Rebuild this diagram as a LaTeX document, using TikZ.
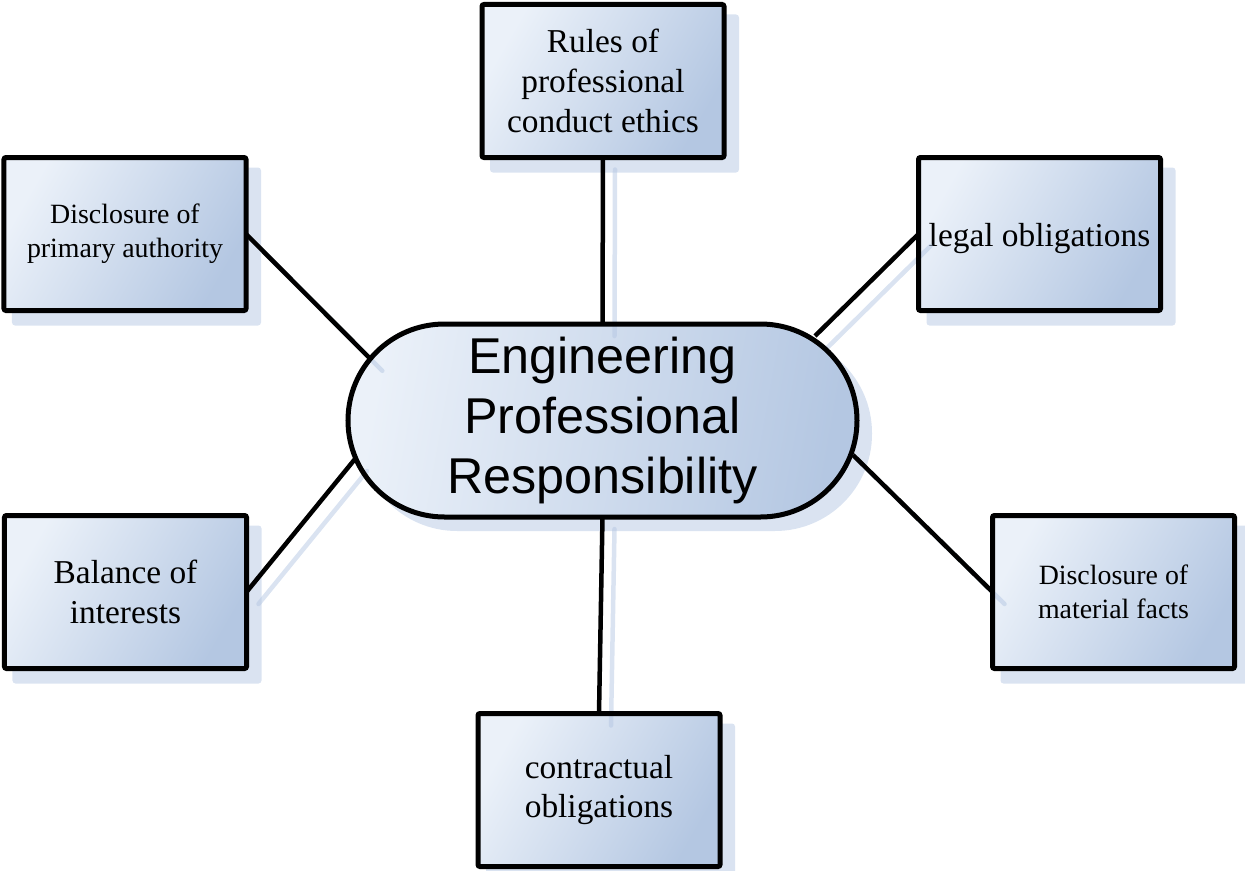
\documentclass[tikz,border=0pt]{standalone}
\usepackage{fontspec}
\setmainfont{Liberation Serif}
\newfontfamily\hubfont{Liberation Sans}
\usetikzlibrary{calc}
\definecolor{fillA}{RGB}{235,241,249}
\definecolor{fillB}{RGB}{180,199,226}
\definecolor{shadowc}{RGB}{218,227,241}
\definecolor{lineshc}{RGB}{181,199,227}
\pgfdeclarelayer{bg}
\pgfsetlayers{bg,main}
\tikzset{
  box/.style={rectangle, rounded corners=2bp, minimum width=242bp, minimum height=153bp,
    inner sep=0pt, outer sep=0pt, left color=fillA, right color=fillB, shading angle=60,
    align=center, font=\fontsize{33.5}{40}\selectfont},
  smallbox/.style={box, font=\fontsize{28}{34}\selectfont},
  hub/.style={rectangle, rounded corners=96.5bp, minimum width=509bp, minimum height=193bp,
    inner sep=0pt, outer sep=0pt, left color=fillA, right color=fillB, shading angle=80,
    align=center, font=\hubfont\fontsize{50.5}{60}\selectfont},
  border/.style={draw=black, line width=5bp},
  link/.style={draw=black, line width=4.5bp},
  linkshadow/.style={draw=lineshc, opacity=0.5, line width=4.5bp, line cap=round},
  boxshadow/.style={fill=shadowc, rounded corners=3bp},
}
\begin{document}
\begin{tikzpicture}[x=1bp,y=-1bp]
\useasboundingbox (0,0) rectangle (1245,871);
% nodes (fill only, borders drawn later)
\node[hub] (C) at (602.5,420.5) {Engineering\\Professional\\Responsibility};
\node[box] (T) at (603,81) {Rules of\\professional\\conduct ethics};
\node[smallbox] (TL) at (125,234) {Disclosure of\\primary authority};
\node[box, text height=32bp, text depth=8bp] (TR) at (1039.5,234) {legal obligations};
\node[box] (BL) at (125.5,592) {Balance of\\interests};
\node[smallbox] (BR) at (1113.5,592) {Disclosure of\\material facts};
\node[box] (B) at (599,790) {contractual\\obligations};
% connection points on the hub border
\coordinate (pTL) at ($(C.center)+(-232.2,-61.7)$);
\coordinate (pBL) at ($(C.center)+(-247.5,38.5)$);
\coordinate (pTR) at ($(C.center)+(212.5,-84.5)$);
\coordinate (pBR) at ($(C.center)+(250.5,34.5)$);
% drop shadows
\begin{pgfonlayer}{bg}
\foreach \n in {T,TL,TR,BL,BR,B}
  \path[boxshadow] ($(\n.north west)+(8,10)$) rectangle ($(\n.south east)+(15,15)$);
\path[boxshadow, rounded corners=97bp] ($(C.north west)+(12,12)$) rectangle ($(C.south east)+(15,14)$);
\end{pgfonlayer}
% connector shadows
\foreach \a/\b in {T.south/C.north, TL.east/pTL, TR.west/pTR, BL.east/pBL, BR.west/pBR, C.south/B.north}
  \draw[linkshadow] ([shift={(12,12)}]\a) -- ([shift={(12,12)}]\b);
% borders
\foreach \n in {T,TL,TR,BL,BR,B}
  \draw[border, rounded corners=2bp] (\n.north west) rectangle (\n.south east);
\draw[border, rounded corners=96.5bp] (C.north west) rectangle (C.south east);
% connectors
\draw[link] (T.south) -- (C.north);
\draw[link] (TL.east) -- (pTL);
\draw[link] (TR.west) -- (pTR);
\draw[link] (BL.east) -- (pBL);
\draw[link] (BR.west) -- (pBR);
\draw[link] (C.south) -- (B.north);
\end{tikzpicture}
\end{document}
